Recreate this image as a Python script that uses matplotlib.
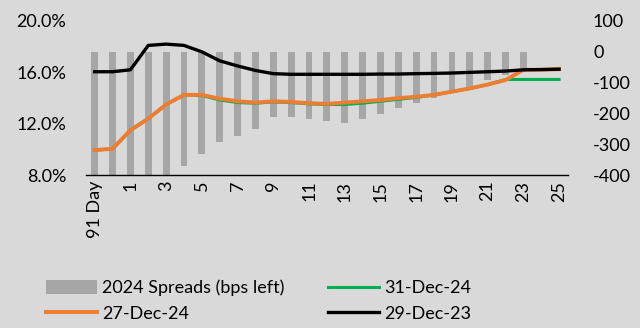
import matplotlib
matplotlib.use("Agg")
import matplotlib.pyplot as plt
import matplotlib.ticker as mticker
import numpy as np

plt.rcParams['font.family'] = ['Lato', 'DejaVu Sans']
plt.rcParams['axes.unicode_minus'] = False

# tenors: 91 day, 182 day, then years 1..25
tenors = ['91 Day', '182 Day'] + [str(y) for y in range(1, 26)]

# 2024 spreads (bps) - first bars run off the bottom of the axis
spreads = [-610, -600, -470, -570, -470, -370, -330, -291, -272, -250,
           -211, -211, -218, -224, -230, -218, -202, -182, -165, -150,
           -135, -115, -90, -74, -58, np.nan, np.nan]

yield_31dec24 = [9.95, 10.05, 11.5, 12.4, 13.5, 14.25, 14.2, 13.85, 13.65, 13.6,
                 13.7, 13.65, 13.55, 13.5, 13.5, 13.6, 13.75, 13.9, 14.05, 14.25,
                 14.5, 14.75, 15.05, 15.45, 15.45, 15.45, 15.45]
yield_27dec24 = [9.95, 10.05, 11.5, 12.4, 13.5, 14.25, 14.25, 13.95, 13.75, 13.65,
                 13.75, 13.7, 13.6, 13.55, 13.65, 13.75, 13.85, 14.0, 14.1, 14.25,
                 14.5, 14.75, 15.05, 15.4, 16.2, 16.2, 16.25]
yield_29dec23 = [16.05, 16.05, 16.2, 18.1, 18.2, 18.1, 17.6, 16.9, 16.5, 16.15,
                 15.9, 15.85, 15.85, 15.85, 15.85, 15.85, 15.87, 15.87, 15.9, 15.92,
                 15.95, 16.0, 16.05, 16.1, 16.2, 16.22, 16.25]

bg = '#d9d9d9'
fs = 13
x = np.arange(len(tenors))

fig = plt.figure(figsize=(6.4, 3.28), dpi=100, facecolor=bg)
ax = fig.add_subplot(111)
fig.subplots_adjust(left=0.134, right=0.8875, top=0.936, bottom=0.466)
ax.set_facecolor(bg)
ax2 = ax.twinx()

# bars on the bps axis (ticks shown on the right)
bars = ax.bar(x, spreads, width=0.38, color='#a6a6a6', label='2024 Spreads (bps left)')
ax.set_ylim(-400, 100)
ax.set_yticks([100, 0, -100, -200, -300, -400])
ax.yaxis.tick_right()

# yield lines on the percent axis (ticks shown on the left)
l_green, = ax2.plot(x, yield_31dec24, color='#00b050', lw=2.2, label='31-Dec-24')
l_orange, = ax2.plot(x, yield_27dec24, color='#ed7d31', lw=2.8, label='27-Dec-24')
l_black, = ax2.plot(x, yield_29dec23, color='black', lw=2.4, label='29-Dec-23')
ax2.set_ylim(8, 20)
ax2.set_yticks([8, 12, 16, 20])
ax2.yaxis.set_major_formatter(mticker.FormatStrFormatter('%.1f%%'))
ax2.yaxis.tick_left()

ax.set_xlim(-0.5, 26.5)
ax.set_xticks(x[::2])
ax.set_xticklabels(tenors[::2], rotation=90)

for a in (ax, ax2):
    for s in ('top', 'left', 'right', 'bottom'):
        a.spines[s].set_visible(False)
    a.tick_params(length=0, labelsize=fs, pad=4)
ax.spines['bottom'].set_visible(True)
ax.spines['bottom'].set_color('black')
ax.spines['bottom'].set_linewidth(1)
ax.tick_params(axis='y', pad=18)
ax2.tick_params(axis='y', pad=14)

fig.legend([bars, l_orange, l_green, l_black],
           ['2024 Spreads (bps left)', '27-Dec-24', '31-Dec-24', '29-Dec-23'],
           ncol=2, loc='lower left', bbox_to_anchor=(0.047, -0.03), frameon=False,
           fontsize=fs, handlelength=2.8, handleheight=0.8, columnspacing=2.4,
           labelspacing=0.5, handletextpad=0.3)

fig.savefig('out.png', dpi=100, facecolor=bg)
